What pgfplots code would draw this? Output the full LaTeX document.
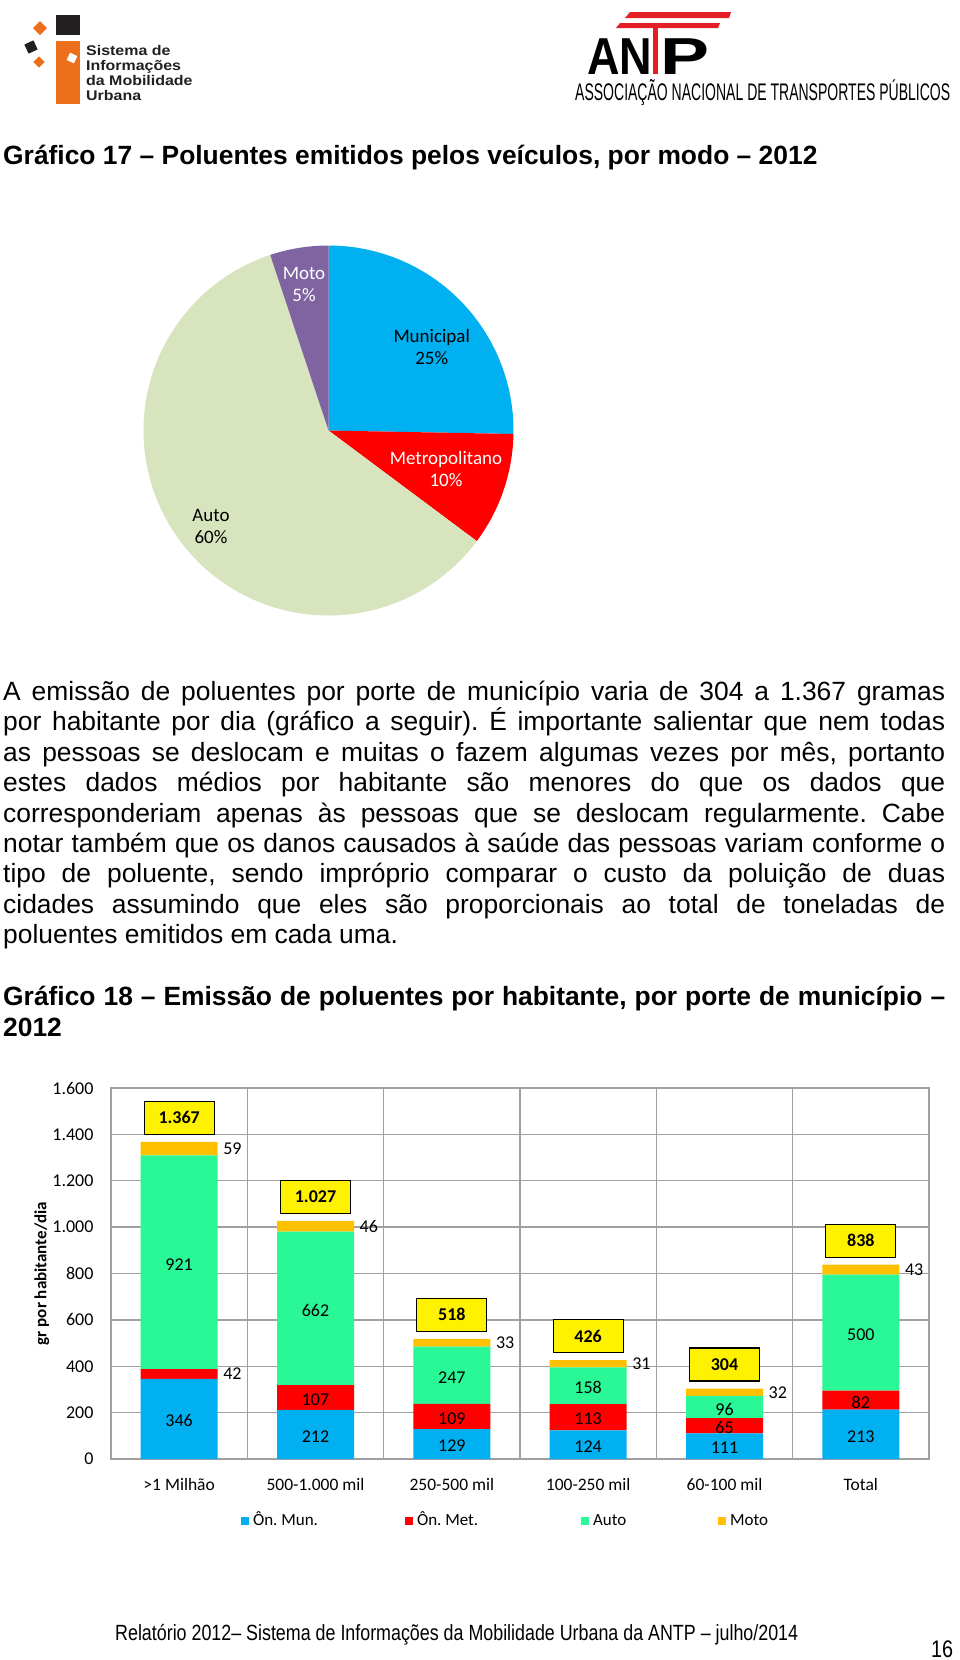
\documentclass[border=0pt]{standalone}
\usepackage{fontspec}
\setmainfont{Liberation Sans}
\newfontfamily\calibri{Carlito}
\usepackage{graphicx}
\usepackage{pgfplots}
\pgfplotsset{compat=1.18}
\usepackage{pgfplotstable}
\frenchspacing

\definecolor{cMun}{RGB}{0,176,240}
\definecolor{cMet}{RGB}{255,0,0}
\definecolor{cAuto}{RGB}{42,247,150}
\definecolor{cMoto}{RGB}{255,192,0}
\definecolor{pMun}{RGB}{0,176,240}
\definecolor{pMet}{RGB}{255,0,0}
\definecolor{pAuto}{RGB}{215,228,189}
\definecolor{pMoto}{RGB}{128,100,162}
\definecolor{gridc}{RGB}{160,160,160}
\definecolor{logoOrange}{RGB}{236,112,28}
\definecolor{logoBlack}{RGB}{35,31,32}
\definecolor{antpRed}{RGB}{228,30,38}

\newcommand\fs[2]{\fontsize{#1}{#2}\selectfont}

% stacked bars: gr por habitante/dia
\pgfplotstableread{
x mun met auto moto totlab
0 346 42 921 59 1.367
1 212 107 662 46 1.027
2 129 109 247 33 518
3 124 113 158 31 426
4 111 65 96 32 304
5 213 82 500 43 838
}\bars

% pie: share of pollutants by mode (%)
\pgfplotstableread{
label value
Municipal 25.3
Metropolitano 9.9
Auto 59.7
Moto 5.1
}\pietab

\pgfplotstablegetelem{0}{value}\of\pietab \let\vMun\pgfplotsretval%
\pgfplotstablegetelem{1}{value}\of\pietab \let\vMet\pgfplotsretval%
\pgfplotstablegetelem{2}{value}\of\pietab \let\vAuto\pgfplotsretval%
\pgfplotstablegetelem{3}{value}\of\pietab \let\vMoto\pgfplotsretval%
\pgfmathsetmacro\aA{90}%
\pgfmathsetmacro\aB{\aA-3.6*\vMun}%
\pgfmathsetmacro\aC{\aB-3.6*\vMet}%
\pgfmathsetmacro\aD{\aC-3.6*\vAuto}%
\pgfmathsetmacro\aE{\aD-3.6*\vMoto}%

\pgfplotsset{
  sq/.style={legend image code/.code={\path (0pt,-1.5pt); \fill[##1] (0pt,0pt) rectangle (8pt,8pt);}},
  outside/.style={every node near coord/.append style={anchor=west, xshift=44pt, yshift=2pt}},
  totalbox/.style={every node near coord/.append style={anchor=south, yshift=9pt, fill=yellow, draw=black, line width=1.2pt, minimum width=70pt, minimum height=33pt, inner sep=2pt, font=\calibri\bfseries\fs{18}{18}}},
}

\begin{document}%
\begin{tikzpicture}
\begin{scope}[x=1pt,y=-1pt]
\path[use as bounding box, fill=white] (0,0) rectangle (960,1660);
% left logo
\fill[logoBlack] (56,15) rectangle (80,35);
\fill[logoOrange] (56,41) rectangle (80,104);
\fill[white, rotate around={-25:(72,58)}] (68,54) rectangle (76,62);
\fill[logoOrange] (40,21) -- (47,28) -- (40,35) -- (33,28) -- cycle;
\fill[logoBlack, rotate around={25:(31,47)}] (26,42) rectangle (36,52);
\fill[logoOrange, rotate around={45:(39,62)}] (35,58) rectangle (43,66);
\begin{scope}[every node/.style={anchor=base west, inner sep=0, text=logoBlack}]
\node at (86,55) {\scalebox{1.14}[1]{\bfseries\fs{14}{15}Sistema de}};
\node at (86,70) {\scalebox{1.14}[1]{\bfseries\fs{14}{15}Informações}};
\node at (86,85) {\scalebox{1.14}[1]{\bfseries\fs{14}{15}da Mobilidade}};
\node at (86,100) {\scalebox{1.14}[1]{\bfseries\fs{14}{15}Urbana}};
\end{scope}
% right logo
\fill[antpRed] (630,12) -- (731,12) -- (729,18) -- (625,18) -- cycle;
\fill[antpRed] (620,23) -- (720,23) -- (718,28) -- (616,28) -- cycle;
\fill[antpRed] (653,28) rectangle (658,74);
\node[anchor=base west, inner sep=0] at (587,74) {\resizebox{65pt}{\height}{\bfseries\fs{52}{52}AN}};
\node[anchor=base west, inner sep=0] at (660,74) {\resizebox{49pt}{\height}{\bfseries\fs{52}{52}P}};
\node[anchor=base west, inner sep=0] at (575,100) {\resizebox{375pt}{\height}{\fs{24}{24}ASSOCIAÇÃO NACIONAL DE TRANSPORTES PÚBLICOS}};
% title 1
\node[anchor=base west, inner sep=0] at (3,164.5) {\bfseries\fs{26.4}{30}Gráfico 17 – Poluentes emitidos pelos veículos, por modo – 2012};
% paragraph
\begin{scope}[every node/.style={anchor=base west, inner sep=0, font=\fs{26.4}{30}}]
\node at (3,700.5) {\makebox[942pt][s]{A emissão de poluentes por porte de município varia de 304 a 1.367 gramas}};
\node at (3,730.9) {\makebox[942pt][s]{por habitante por dia (gráfico a seguir). É importante salientar que nem todas}};
\node at (3,761.3) {\makebox[942pt][s]{as pessoas se deslocam e muitas o fazem algumas vezes por mês, portanto}};
\node at (3,791.7) {\makebox[942pt][s]{estes dados médios por habitante são menores do que os dados que}};
\node at (3,822.1) {\makebox[942pt][s]{corresponderiam apenas às pessoas que se deslocam regularmente. Cabe}};
\node at (3,852.5) {\makebox[942pt][s]{notar também que os danos causados à saúde das pessoas variam conforme o}};
\node at (3,882.9) {\makebox[942pt][s]{tipo de poluente, sendo impróprio comparar o custo da poluição de duas}};
\node at (3,913.3) {\makebox[942pt][s]{cidades assumindo que eles são proporcionais ao total de toneladas de}};
\node at (3,943.7) {poluentes emitidos em cada uma.};
% title 2
\node at (3,1005.5) {\bfseries\makebox[942pt][s]{Gráfico 18 – Emissão de poluentes por habitante, por porte de município –}};
\node at (3,1036) {\bfseries 2012};
\end{scope}
% footer
\node[anchor=base west, inner sep=0] at (115,1640) {\resizebox{683pt}{\height}{\fs{22}{22}Relatório 2012– Sistema de Informações da Mobilidade Urbana da ANTP – julho/2014}};
\node[anchor=base west, inner sep=0] at (931,1657) {\resizebox{22pt}{\height}{\fs{24}{24}16}};
\end{scope}

% ---------- pie ----------
\begin{axis}[at={(143.5pt,-615.5pt)}, anchor=south west, scale only axis,
  width=370pt, height=370pt, xmin=-1, xmax=1, ymin=-1, ymax=1, hide axis, clip=false]
\fill[pMun]  (axis cs:0,0) -- ++(\aA:185pt) arc[start angle=\aA, end angle=\aB, radius=185pt] -- cycle;
\fill[pMet]  (axis cs:0,0) -- ++(\aB:185pt) arc[start angle=\aB, end angle=\aC, radius=185pt] -- cycle;
\fill[pAuto] (axis cs:0,0) -- ++(\aC:185pt) arc[start angle=\aC, end angle=\aD, radius=185pt] -- cycle;
\fill[pMoto] (axis cs:0,0) -- ++(\aD:185pt) arc[start angle=\aD, end angle=\aE, radius=185pt] -- cycle;
\end{axis}
\begin{scope}[x=1pt,y=-1pt]
\node[align=center, inner sep=0, font=\calibri\fs{19}{22.5}, text=white] at (304,284.5) {Moto\\5\%};
\node[align=center, inner sep=0, font=\calibri\fs{19}{22.5}, text=black] at (431.7,347.2) {Municipal\\25\%};
\node[align=center, inner sep=0, font=\calibri\fs{19}{22.5}, text=white] at (446,469) {Metropolitano\\10\%};
\node[align=center, inner sep=0, font=\calibri\fs{19}{22.5}, text=black] at (211,526.5) {Auto\\60\%};
\end{scope}

% ---------- stacked bars ----------
\begin{axis}[
  at={(111pt,-1459pt)}, anchor=south west, scale only axis,
  width=818pt, height=371pt,
  ybar stacked, bar width=77pt,
  xmin=-0.5, xmax=5.5, ymin=0, ymax=1600,
  xtick={0,1,2,3,4,5},
  xticklabels={{>1 Milhão},{500-1.000 mil},{250-500 mil},{100-250 mil},{60-100 mil},{Total}},
  minor xtick={-0.5,0.5,1.5,2.5,3.5,4.5,5.5},
  xminorgrids=true, ymajorgrids=true, xmajorgrids=false,
  ytick={0,200,400,600,800,1000,1200,1400,1600},
  yticklabels={0,200,400,600,800,1.000,1.200,1.400,1.600},
  minor grid style={gridc, line width=1.3pt},
  major grid style={gridc, line width=1.3pt},
  axis line style={gridc, line width=1.3pt},
  major tick length=0pt, minor tick length=0pt, tick style={draw=none},
  yticklabel style={font=\calibri\fs{18}{18}, anchor=east, xshift=-14pt},
  xticklabel style={font=\calibri\fs{17.5}{17.5}, anchor=north, yshift=-16pt},
  ylabel={gr por habitante/dia},
  every axis y label/.style={at={(axis description cs:-0.0844,0.5)}, rotate=90, anchor=center, font=\calibri\bfseries\fs{17}{17}},
  legend style={at={(axis description cs:0.1589,-0.1617)}, anchor=west, draw=none, fill=none,
    inner sep=0pt, font=\calibri\fs{17}{17}, nodes={inner sep=1pt, anchor=base west},
    /tikz/every even column/.append style={column sep=0pt}},
  legend columns=4, legend cell align=left,
]
\addplot[fill=cMun, draw=none, sq] table[x=x, y=mun]{\bars};
\addlegendentry{\makebox[154pt][l]{\strut\,Ôn. Mun.}}
\addplot[fill=cMet, draw=none, sq] table[x=x, y=met]{\bars};
\addlegendentry{\makebox[166pt][l]{\strut\,Ôn. Met.}}
\addplot[fill=cAuto, draw=none, sq] table[x=x, y=auto]{\bars};
\addlegendentry{\makebox[127pt][l]{\strut\,Auto}}
\addplot[fill=cMoto, draw=none, sq] table[x=x, y=moto]{\bars};
\addlegendentry{\makebox[40pt][l]{\strut\,Moto}}
\end{axis}

% ---------- value labels ----------
\begin{axis}[
  at={(111pt,-1459pt)}, anchor=south west, scale only axis,
  width=818pt, height=371pt,
  xmin=-0.5, xmax=5.5, ymin=0, ymax=1600, hide axis, clip=false,
  nodes near coords, point meta=explicit symbolic,
  every node near coord/.append style={font=\calibri\fs{18}{18}, text=black, inner sep=0pt, anchor=center, yshift=-2pt},
]
\addplot[draw=none, mark=none] table[x=x, y expr=\thisrow{mun}/2, meta=mun]{\bars};
\addplot[draw=none, mark=none, restrict x to domain=0.5:5.5] table[x=x, y expr=\thisrow{mun}+\thisrow{met}/2, meta=met]{\bars};
\addplot[draw=none, mark=none] table[x=x, y expr=\thisrow{mun}+\thisrow{met}+\thisrow{auto}/2, meta=auto]{\bars};
\addplot[draw=none, mark=none, outside, restrict x to domain=-0.5:0.5] table[x=x, y expr=\thisrow{mun}+\thisrow{met}/2, meta=met]{\bars};
\addplot[draw=none, mark=none, outside] table[x=x, y expr=\thisrow{mun}+\thisrow{met}+\thisrow{auto}+\thisrow{moto}/2, meta=moto]{\bars};
\addplot[draw=none, mark=none, totalbox] table[x=x, y expr=\thisrow{mun}+\thisrow{met}+\thisrow{auto}+\thisrow{moto}, meta=totlab]{\bars};
\end{axis}
\end{tikzpicture}%
\end{document}
